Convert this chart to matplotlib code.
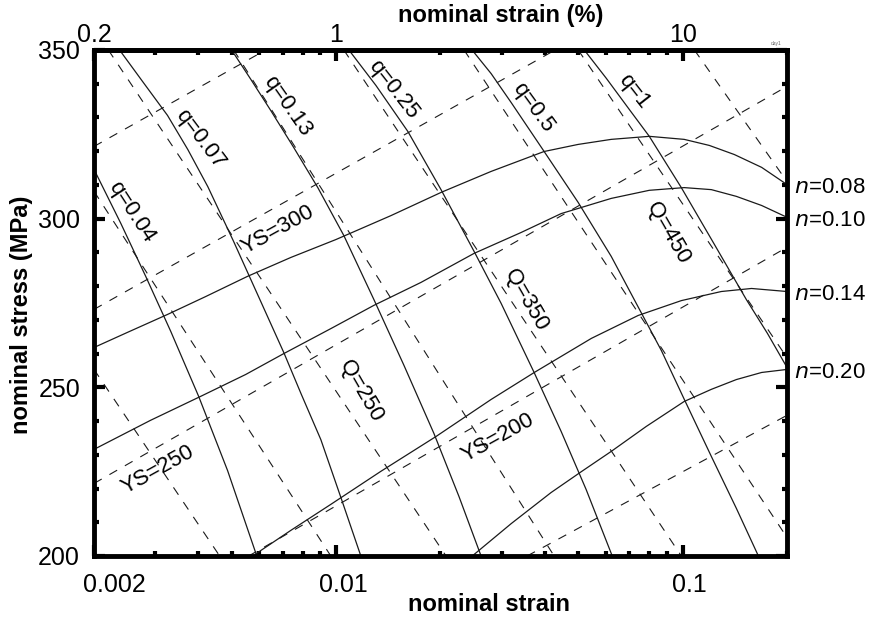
import matplotlib
matplotlib.use("Agg")
import matplotlib.pyplot as plt
from matplotlib.ticker import LogLocator, MultipleLocator, NullFormatter, FixedLocator, FixedFormatter
from matplotlib.transforms import ScaledTranslation

plt.rcParams['font.family'] = ['Liberation Sans', 'DejaVu Sans']

# stress-strain curves (solid, rising), one per n
n_values = ["0.08", "0.10", "0.14", "0.20"]
n008_strain = [0.002, 0.0025, 0.00326, 0.0042, 0.00555, 0.0074, 0.00998, 0.01439, 0.0201, 0.028,
               0.0398, 0.0499, 0.0622, 0.0801, 0.101, 0.1194, 0.141, 0.169, 0.2]
n008_stress = [261.8, 266.3, 271.6, 276.9, 282.9, 288.5, 293.8, 300.9, 307.8, 314.0,
               319.9, 322.0, 323.5, 324.4, 323.5, 321.7, 319.0, 315.2, 310.1]
n010_strain = [0.002, 0.00291, 0.00406, 0.00548, 0.00706, 0.00965, 0.01285, 0.01757, 0.025, 0.03418,
               0.0446, 0.0622, 0.0801, 0.101, 0.121, 0.1429, 0.169, 0.2]
n010_stress = [231.6, 240.2, 247.3, 253.8, 260.0, 267.4, 274.3, 281.1, 289.7, 295.9,
               301.5, 306.0, 308.4, 309.2, 308.6, 306.6, 303.9, 300.4]
n014_strain = [0.00574, 0.0074, 0.00965, 0.01346, 0.0194, 0.028, 0.0373, 0.0545, 0.0744, 0.0991,
               0.1293, 0.158, 0.2]
n014_stress = [200, 207.6, 215.3, 225.1, 235.4, 246.4, 254.4, 264.5, 271.3, 275.7,
               278.4, 279.3, 278.4]
n020_strain = [0.0247, 0.032, 0.0417, 0.051, 0.0622, 0.0785, 0.101, 0.121, 0.1429, 0.169, 0.2]
n020_stress = [200, 209.6, 218.8, 225.0, 231.0, 238.4, 245.8, 249.4, 252.3, 254.4, 255.3]

# constant-q curves (solid, falling)
q_values = ["0.04", "0.07", "0.13", "0.25", "0.5", "1"]
q004_strain = [0.002, 0.00239, 0.00282, 0.00333, 0.00401, 0.00486, 0.0059]
q004_stress = [314.6, 298.6, 282.9, 266.6, 247.3, 225.3, 200]
q007_strain = [0.00237, 0.00276, 0.00326, 0.00373, 0.00426, 0.00506, 0.00606, 0.00706,
               0.00791, 0.00903, 0.01032, 0.01178]
q007_stress = [350, 340.7, 330.6, 320.5, 309.5, 293.2, 275.4, 260.3, 248.2, 234.5, 217.3, 200]
q013_strain = [0.00499, 0.00567, 0.00647, 0.00754, 0.00885, 0.01052, 0.01285, 0.01569,
               0.01915, 0.02262, 0.02619]
q013_stress = [350, 341.3, 332.1, 321.1, 309.2, 295.0, 276.0, 256.5, 236.3, 217.6, 200]
q025_strain = [0.01088, 0.01302, 0.01611, 0.02007, 0.025, 0.02992, 0.03726, 0.0446, 0.05265, 0.06262]
q025_stress = [350, 339.5, 325.8, 308.6, 290.3, 274.9, 254.4, 236.9, 219.7, 200]
q050_strain = [0.02467, 0.028, 0.032, 0.03983, 0.04994, 0.06221, 0.07248, 0.0868, 0.1011,
               0.121, 0.1429, 0.1654]
q050_stress = [350, 343.0, 334.4, 319.9, 304.8, 288.8, 276.0, 260.9, 246.4, 229.5, 214.1, 200]
q100_strain = [0.052, 0.0602, 0.0701, 0.0801, 0.0991, 0.1226, 0.1527, 0.1756, 0.2]
q100_stress = [350, 341.6, 332.4, 324.4, 309.2, 292.9, 276.0, 266.0, 255.9]

# constant-Q lines (dashed, falling), end points
Q_values = [150, 200, 250, 300, 350, 400, 450, 500]
Q_strain = [[0.002, 0.00461], [0.002, 0.00965], [0.0022, 0.02075], [0.00506, 0.04256],
            [0.01052, 0.0991], [0.02339, 0.2], [0.04994, 0.2], [0.1081, 0.2]]
Q_stress = [[255.3, 200], [308.1, 200], [350, 200], [350, 200],
            [350, 200], [350, 205.5], [350, 258.8], [350, 311.0]]

# constant-YS lines (dashed, rising), end points
YS_values = [350, 300, 250, 200, 150]
YS_strain = [[0.002, 0.00626], [0.002, 0.04285], [0.002, 0.2], [0.00559, 0.2], [0.03557, 0.2]]
YS_stress = [[321.4, 350], [273.1, 350], [221.5, 339.2], [200, 291.5], [200, 241.7]]

fig = plt.figure(figsize=(8.72, 6.17), dpi=100)
ax = fig.add_axes([0.1078, 0.0989, 0.7947, 0.8201])
ink = "#1a1a1a"

n_curves = [(n008_strain, n008_stress), (n010_strain, n010_stress),
            (n014_strain, n014_stress), (n020_strain, n020_stress)]
q_curves = [(q004_strain, q004_stress), (q007_strain, q007_stress), (q013_strain, q013_stress),
            (q025_strain, q025_stress), (q050_strain, q050_stress), (q100_strain, q100_stress)]

for xs, ys in n_curves + q_curves:
    ax.plot(xs, ys, color=ink, lw=0.9)
for xs, ys in zip(Q_strain + YS_strain, Q_stress + YS_stress):
    ax.plot(xs, ys, color=ink, lw=0.8, linestyle=(0, (8, 8)))

ax.set_xscale('log')
ax.set_xlim(0.002, 0.2)
ax.set_ylim(200, 350)

# labels on the curves
fs_lab = 16
q_pos = [(0.00257, 302.1), (0.00406, 323.5), (0.00725, 333.5), (0.01468, 338.3), (0.0370, 333.0), (0.0725, 337.7)]
q_rot = [-57, -53, -55, -52, -54, -52]
for v, (x, y), r in zip(q_values, q_pos, q_rot):
    ax.text(x, y, f"q={v}", rotation=r, ha='center', va='center', fontsize=fs_lab, rotation_mode='anchor')
Q_pos = {250: (0.01178, 248.8), 350: (0.03533, 276.0), 450: (0.0909, 295.9)}
for v, (x, y) in Q_pos.items():
    ax.text(x, y, f"Q={v}", rotation=-60, ha='center', va='center', fontsize=fs_lab, rotation_mode='anchor')
YS_pos = {300: (0.00678, 296.8), 250: (0.00305, 225.6), 200: (0.02933, 235.1)}
for v, (x, y) in YS_pos.items():
    ax.text(x, y, f"YS={v}", rotation=29, ha='center', va='center', fontsize=fs_lab, rotation_mode='anchor')

for v, (xs, ys) in zip(n_values, n_curves):
    ax.annotate(f"$n$=" + v, xy=(1.0, ys[-1]), xycoords=('axes fraction', 'data'),
                xytext=(5, -2), textcoords='offset points', ha='left', va='center', fontsize=16)

# axes styling
for sp in ax.spines.values():
    sp.set_linewidth(3.5)
ax.xaxis.set_major_locator(FixedLocator([0.002, 0.01, 0.1]))
ax.xaxis.set_major_formatter(FixedFormatter(["0.002", "0.01", "0.1"]))
ax.xaxis.set_minor_locator(LogLocator(base=10, subs=range(2, 10), numticks=20))
ax.xaxis.set_minor_formatter(NullFormatter())
ax.yaxis.set_major_locator(MultipleLocator(50))
ax.yaxis.set_minor_locator(MultipleLocator(10))
ax.tick_params(which='both', direction='in', width=3, right=True, top=False, labelsize=18, colors='black')
ax.tick_params(which='major', length=8, pad=10)
ax.tick_params(which='minor', length=3.5)
ax.tick_params(axis='x', which='major', pad=12)

shifts = [20, 7, 7]
for lab, dx in zip(ax.get_xticklabels(), shifts):
    lab.set_transform(lab.get_transform() + ScaledTranslation(dx / 100, 0, fig.dpi_scale_trans))

top = ax.secondary_xaxis('top', functions=(lambda x: x * 100, lambda x: x / 100))
top.xaxis.set_major_locator(FixedLocator([0.2, 1, 10]))
top.xaxis.set_major_formatter(FixedFormatter(["0.2", "1", "10"]))
top.xaxis.set_minor_locator(LogLocator(base=10, subs=range(2, 10), numticks=20))
top.xaxis.set_minor_formatter(NullFormatter())
top.tick_params(which='both', direction='in', width=3, labelsize=18)
top.tick_params(which='major', length=8, pad=2)
top.tick_params(which='minor', length=3.5)
top.spines['top'].set_linewidth(3.5)

ax.set_xlabel("nominal strain", fontsize=17, fontweight='bold')
ax.xaxis.set_label_coords(0.570, -0.074)
ax.set_ylabel("nominal stress (MPa)", fontsize=17, fontweight='bold')
ax.yaxis.set_label_coords(-0.088, 0.476)
ax.text(0.587, 1.068, "nominal strain (%)", transform=ax.transAxes, fontsize=17,
        fontweight='bold', ha='center', va='center')
ax.text(0.985, 1.008, "day1", transform=ax.transAxes, fontsize=3.5, ha='center', va='bottom', color='#666666')

fig.savefig("out.png", dpi=100)
